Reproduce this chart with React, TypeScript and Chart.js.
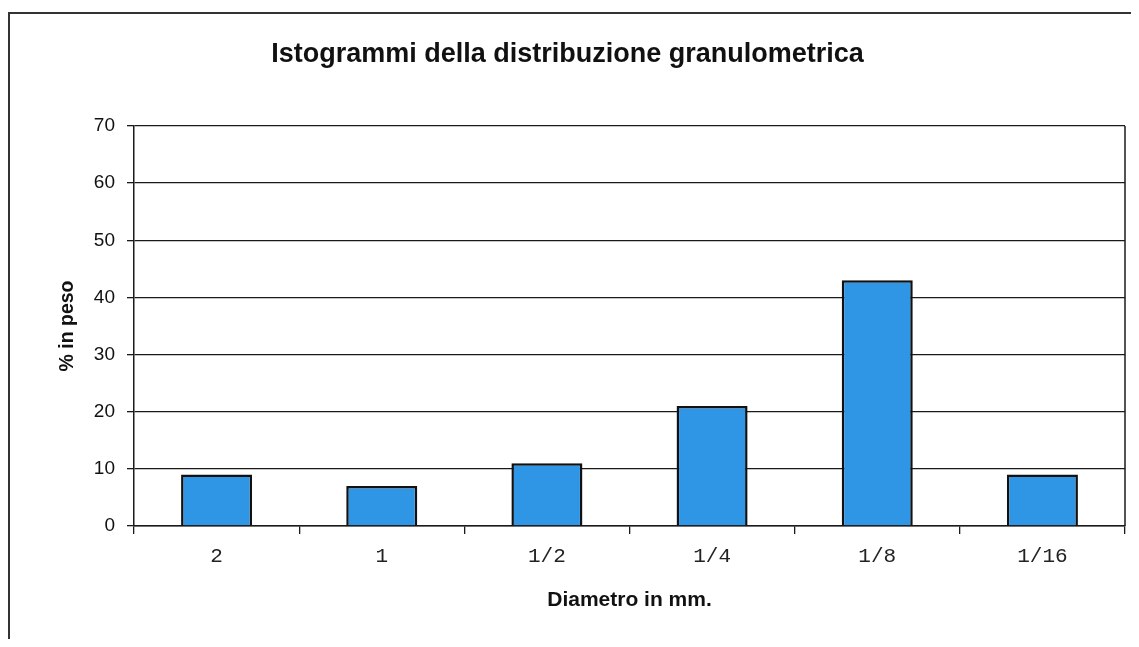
import React, { useEffect, useRef } from "react";
import { Chart, registerables } from "chart.js";

Chart.register(...registerables);

const categories = ["2", "1", "1/2", "1/4", "1/8", "1/16"];
const percentValues = [9, 7, 11, 21, 43, 9];
const yTicks = [0, 10, 20, 30, 40, 50, 60, 70];

const titleText = "Istogrammi della distribuzione granulometrica";
const xTitle = "Diametro in mm.";
const yTitle = "% in peso";

const rightBorder = {
  id: "rightBorder",
  afterDraw(chart: any) {
    const { ctx, chartArea } = chart;
    ctx.save();
    ctx.strokeStyle = "#1a1a1a";
    ctx.lineWidth = 1.5;
    ctx.beginPath();
    ctx.moveTo(chartArea.right, chartArea.top);
    ctx.lineTo(chartArea.right, chartArea.bottom);
    ctx.stroke();
    ctx.restore();
  },
};

export default function App() {
  const ref = useRef<HTMLCanvasElement | null>(null);
  useEffect(() => {
    if (!ref.current) return;
    const chart = new Chart(ref.current, {
      type: "bar",
      data: {
        labels: categories,
        datasets: [
          {
            data: percentValues,
            backgroundColor: "#2f96e6",
            borderColor: "#111",
            borderWidth: 2.5,
            barPercentage: 0.43,
            categoryPercentage: 1,
          },
        ],
      },
      options: {
        animation: false,
        responsive: false,
        layout: { padding: { left: 0, right: 13, top: 0, bottom: 0 } },
        plugins: {
          legend: { display: false },
          tooltip: { enabled: false },
          title: {
            display: true,
            text: titleText,
            color: "#111",
            font: { family: "Liberation Sans", size: 27, weight: "bold" },
            padding: { top: 24.8, bottom: 54.8 },
          },
        },
        scales: {
          x: {
            offset: true,
            afterFit: (axis: any) => {
              axis.height = 113;
            },
            grid: {
              display: true,
              offset: true,
              drawOnChartArea: false,
              drawTicks: true,
              tickLength: 8,
              color: "#1a1a1a",
              tickColor: "#1a1a1a",
              lineWidth: 1.3,
            },
            border: { display: true, color: "#1a1a1a", width: 1.5 },
            ticks: {
              color: "#222",
              font: { family: "Liberation Mono", size: 21 },
              padding: 9.4,
            },
            title: {
              display: true,
              text: xTitle,
              color: "#111",
              font: { family: "Liberation Sans", size: 21, weight: "bold" },
              padding: { top: 0, bottom: 26.4 },
            },
          },
          y: {
            min: 0,
            max: 70,
            afterFit: (axis: any) => {
              axis.width = 124;
            },
            afterBuildTicks: (axis: any) => {
              axis.ticks = yTicks.map((v) => ({ value: v }));
            },
            grid: {
              color: "#1a1a1a",
              lineWidth: 1.3,
              tickLength: 7,
              tickColor: "#1a1a1a",
            },
            border: { display: true, color: "#1a1a1a", width: 1.5 },
            ticks: {
              color: "#111",
              font: { family: "Liberation Sans", size: 19 },
              padding: 12,
            },
            title: {
              display: true,
              text: yTitle,
              color: "#111",
              font: { family: "Liberation Sans", size: 19.5, weight: "bold" },
              padding: { top: 46.3, bottom: 0 },
            },
          },
        },
      },
      plugins: [rightBorder],
    });
    return () => chart.destroy();
  }, []);

  return (
    <div
      style={{
        width: 1130,
        height: 627,
        marginTop: 4,
        borderLeft: "2px solid #333",
        borderTop: "2px solid #333",
        boxSizing: "border-box",
        overflow: "hidden",
        background: "#fff",
      }}
    >
      <canvas ref={ref} width={1128} height={625} style={{ display: "block" }} />
    </div>
  );
}
